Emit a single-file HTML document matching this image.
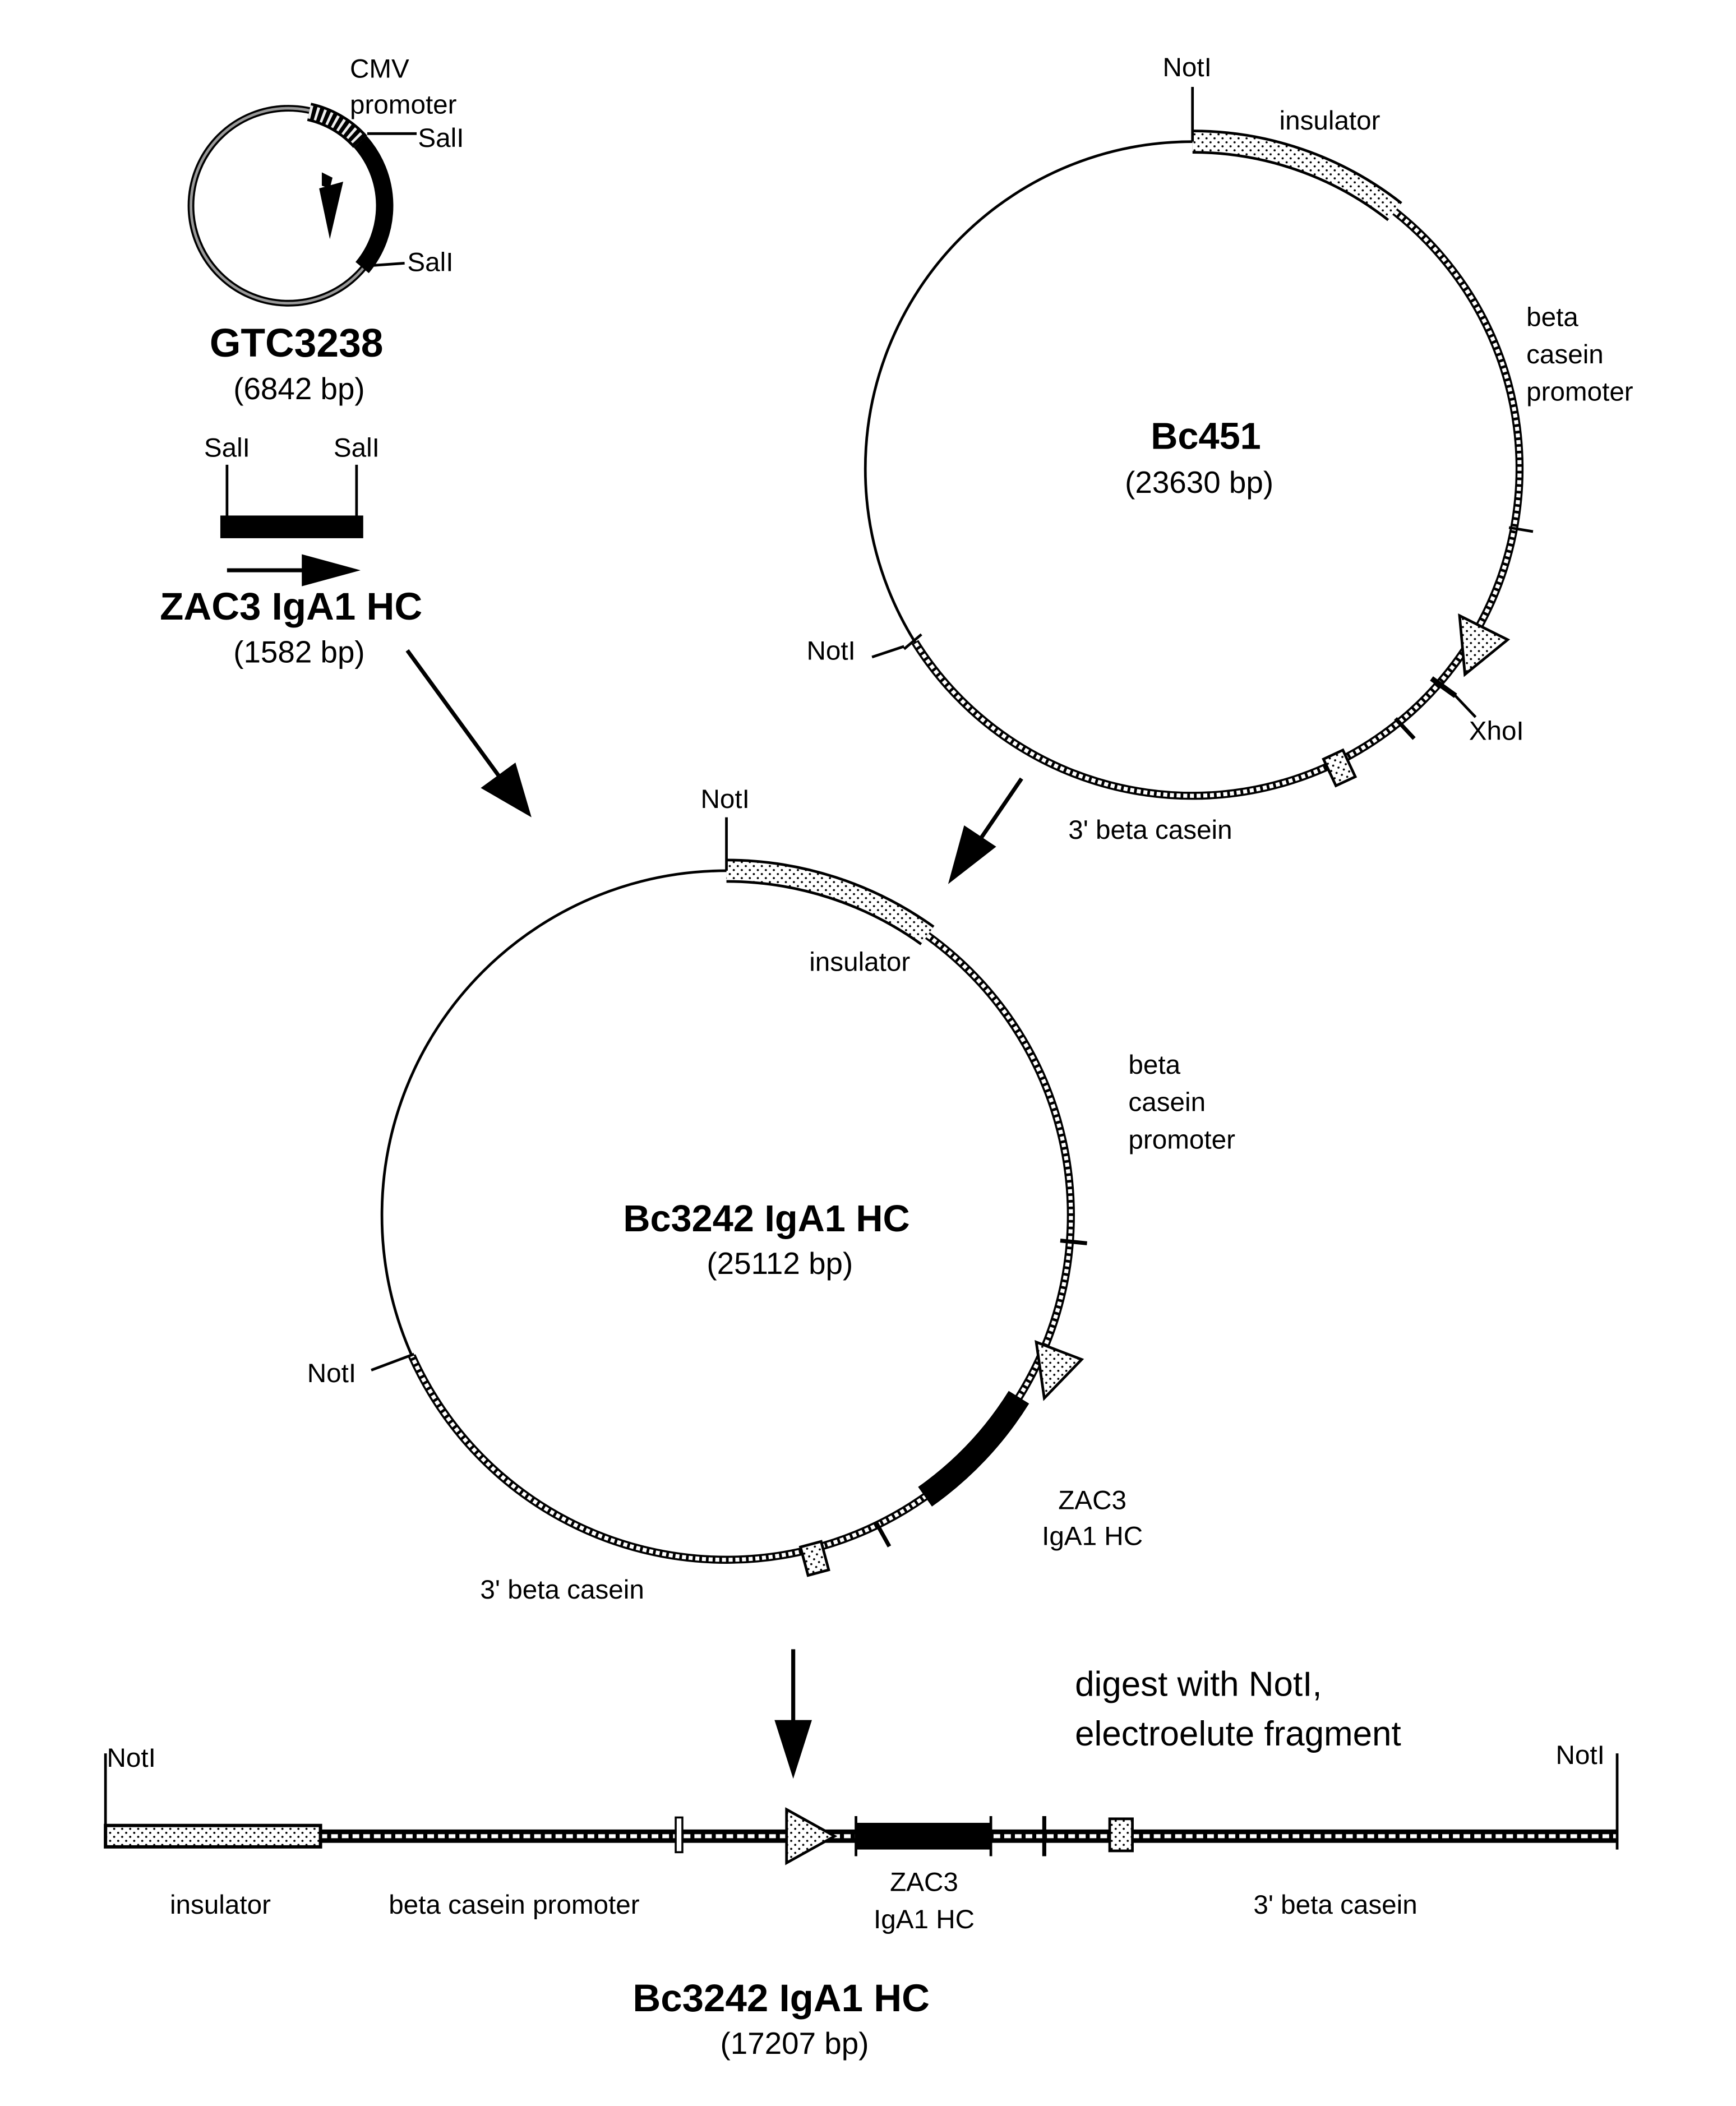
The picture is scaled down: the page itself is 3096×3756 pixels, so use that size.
<!DOCTYPE html>
<html><head><meta charset="utf-8"><style>html,body{margin:0;padding:0;background:#fff}svg{display:block}</style></head>
<body>
<svg width="3096" height="3756" viewBox="0 0 1300 1577" xmlns="http://www.w3.org/2000/svg" font-family="'Liberation Sans', sans-serif">
<defs>
<pattern id="dots" width="6" height="6" patternUnits="userSpaceOnUse"><rect width="6" height="6" fill="#fff"/><circle cx="1.5" cy="1.5" r="0.8" fill="#000"/><circle cx="4.5" cy="4.5" r="0.8" fill="#000"/></pattern>
</defs>
<rect width="1300" height="1577" fill="#fff"/>

<!-- GTC3238 -->
<g transform="translate(1,1)">
<circle cx="215" cy="153" r="73" fill="none" stroke="#000" stroke-width="5"/>
<circle cx="215" cy="153" r="73" fill="none" stroke="#999" stroke-width="2"/>
<path d="M230.5 82.7 A72 72 0 0 1 268.7 105" fill="none" stroke="#000" stroke-width="14"/>
<path d="M230.5 82.7 A72 72 0 0 1 268.7 105" fill="none" stroke="#eee" stroke-width="10" stroke-dasharray="2 3"/>
<path d="M268.7 105 A72 72 0 0 1 270.2 199.3" fill="none" stroke="#000" stroke-width="13"/>
<polygon points="238,140 256,135 246,178" fill="#000"/>
<polygon points="240,128 248,132 246,140 240,138" fill="#000"/>
</g>
<line x1="275" y1="100" x2="312" y2="100" stroke="#000" stroke-width="2"/>
<line x1="275" y1="199" x2="303" y2="197" stroke="#000" stroke-width="2"/>
<g font-size="20">
<text x="262" y="58">CMV</text>
<text x="262" y="85">promoter</text>
<text x="313" y="110">SalI</text>
<text x="305" y="203">SalI</text>
</g>
<text x="222" y="267" font-size="30" font-weight="bold" text-anchor="middle">GTC3238</text>
<text x="224" y="299" font-size="23" text-anchor="middle">(6842 bp)</text>

<g font-size="20" text-anchor="middle"><text x="170" y="342">SalI</text><text x="267" y="342">SalI</text></g>
<line x1="170" y1="348" x2="170" y2="388" stroke="#000" stroke-width="2"/>
<line x1="267" y1="348" x2="267" y2="388" stroke="#000" stroke-width="2"/>
<rect x="165" y="386" width="107" height="17" fill="#000"/>
<line x1="170" y1="427" x2="232" y2="427" stroke="#000" stroke-width="3"/>
<polygon points="226,415 270,427 226,439" fill="#000"/>
<text x="218" y="464" font-size="29" font-weight="bold" text-anchor="middle">ZAC3  IgA1  HC</text>
<text x="224" y="496" font-size="23" text-anchor="middle">(1582 bp)</text>

<line x1="305" y1="487" x2="375" y2="583" stroke="#000" stroke-width="3"/>
<polygon points="360,590 386,571 398,612" fill="#000"/>

<!-- Bc451 -->
<g transform="translate(5,3)">
<circle cx="888" cy="348" r="245" fill="none" stroke="#000" stroke-width="2"/>
<path d="M1039.5 155.4 A245 245 0 1 1 680.2 477.8" fill="none" stroke="#000" stroke-width="6"/>
<path d="M1039.5 155.4 A245 245 0 1 1 680.2 477.8" fill="none" stroke="#fff" stroke-width="3" stroke-dasharray="3 2"/>
<path d="M888 103 A245 245 0 0 1 1039.5 155.4" fill="none" stroke="#000" stroke-width="18"/>
<path d="M888 103 A245 245 0 0 1 1039.5 155.4" fill="none" stroke="url(#dots)" stroke-width="14"/>
<line x1="888" y1="62" x2="888" y2="103" stroke="#000" stroke-width="2"/>
<line x1="1125" y1="392" x2="1143" y2="395" stroke="#000" stroke-width="2"/>
<polygon points="1088,458 1124,476 1092,502" fill="url(#dots)" stroke="#000" stroke-width="2"/>
<line x1="1067" y1="505" x2="1085" y2="518" stroke="#000" stroke-width="4"/>
<line x1="1082" y1="515" x2="1100" y2="534" stroke="#000" stroke-width="2"/>
<line x1="1040" y1="535" x2="1054" y2="550" stroke="#000" stroke-width="3"/>
<rect x="990" y="561" width="16" height="22" fill="url(#dots)" stroke="#000" stroke-width="2" transform="rotate(-25 998 572)"/>
<line x1="672" y1="483" x2="685" y2="472" stroke="#000" stroke-width="2"/>
<line x1="648" y1="489" x2="672" y2="481" stroke="#000" stroke-width="2"/>
</g>
<g font-size="20">
<text x="889" y="57" text-anchor="middle">NotI</text>
<text x="958" y="97">insulator</text>
<text x="1143" y="244">beta</text>
<text x="1143" y="272">casein</text>
<text x="1143" y="300">promoter</text>
<text x="1100" y="554">XhoI</text>
<text x="604" y="494">NotI</text>
<text x="800" y="628">3' beta casein</text>
</g>
<text x="903" y="336" font-size="28" font-weight="bold" text-anchor="middle">Bc451</text>
<text x="898" y="369" font-size="23" text-anchor="middle">(23630 bp)</text>

<line x1="765" y1="583" x2="735" y2="627" stroke="#000" stroke-width="3"/>
<polygon points="722,618 746,634 710,662" fill="#000"/>

<!-- Bc3242 -->
<g transform="translate(2,2)">
<circle cx="542" cy="908" r="258" fill="none" stroke="#000" stroke-width="2"/>
<path d="M692.5 698.5 A258 258 0 1 1 306.4 1013.3" fill="none" stroke="#000" stroke-width="6"/>
<path d="M692.5 698.5 A258 258 0 1 1 306.4 1013.3" fill="none" stroke="#fff" stroke-width="3" stroke-dasharray="3 2"/>
<path d="M542 650 A258 258 0 0 1 692.5 698.5" fill="none" stroke="#000" stroke-width="18"/>
<path d="M542 650 A258 258 0 0 1 692.5 698.5" fill="none" stroke="url(#dots)" stroke-width="14"/>
<path d="M761 1044.3 A258 258 0 0 1 690.7 1118.8" fill="none" stroke="#000" stroke-width="18"/>
<line x1="542" y1="610" x2="542" y2="650" stroke="#000" stroke-width="2"/>
<line x1="792" y1="927" x2="812" y2="929" stroke="#000" stroke-width="3"/>
<polygon points="774,1003 808,1016 780,1045" fill="url(#dots)" stroke="#000" stroke-width="2"/>
<line x1="654" y1="1138" x2="664" y2="1156" stroke="#000" stroke-width="3"/>
<rect x="600" y="1154" width="16" height="22" fill="url(#dots)" stroke="#000" stroke-width="2" transform="rotate(-15 608 1165)"/>
<line x1="276" y1="1024" x2="308" y2="1012" stroke="#000" stroke-width="2"/>
</g>
<g font-size="20">
<text x="543" y="605" text-anchor="middle">NotI</text>
<text x="606" y="727">insulator</text>
<text x="845" y="804">beta</text>
<text x="845" y="832">casein</text>
<text x="845" y="860">promoter</text>
<text x="818" y="1130" text-anchor="middle">ZAC3</text>
<text x="818" y="1157" text-anchor="middle">IgA1 HC</text>
<text x="421" y="1197" text-anchor="middle">3' beta casein</text>
<text x="230" y="1035">NotI</text>
</g>
<text x="574" y="922" font-size="28" font-weight="bold" text-anchor="middle">Bc3242  IgA1  HC</text>
<text x="584" y="954" font-size="23" text-anchor="middle">(25112 bp)</text>

<line x1="594" y1="1235" x2="594" y2="1292" stroke="#000" stroke-width="3"/>
<polygon points="580,1288 608,1288 594,1332" fill="#000"/>
<text x="805" y="1270" font-size="26">digest with NotI,</text>
<text x="805" y="1307" font-size="26">electroelute  fragment</text>

<!-- linear -->
<rect x="240" y="1370" width="971" height="10" fill="#000"/>
<line x1="240" y1="1375" x2="1211" y2="1375" stroke="#fff" stroke-width="3" stroke-dasharray="5 3"/>
<rect x="79" y="1367" width="161" height="16" fill="url(#dots)" stroke="#000" stroke-width="2.5"/>
<line x1="79" y1="1313" x2="79" y2="1382" stroke="#000" stroke-width="2"/>
<line x1="1211" y1="1313" x2="1211" y2="1385" stroke="#000" stroke-width="2"/>
<rect x="506" y="1361" width="5" height="26" fill="#fff" stroke="#000" stroke-width="1.5"/>
<polygon points="589,1355 625,1375 589,1395" fill="url(#dots)" stroke="#000" stroke-width="2"/>
<rect x="641" y="1365" width="101" height="20" fill="#000"/>
<line x1="641" y1="1360" x2="641" y2="1390" stroke="#000" stroke-width="2"/>
<line x1="742" y1="1360" x2="742" y2="1390" stroke="#000" stroke-width="2"/>
<line x1="782" y1="1360" x2="782" y2="1390" stroke="#000" stroke-width="3"/>
<rect x="831" y="1362" width="17" height="24" fill="url(#dots)" stroke="#000" stroke-width="2"/>
<g font-size="20">
<text x="80" y="1323">NotI</text>
<text x="1165" y="1321">NotI</text>
<text x="165" y="1433" text-anchor="middle">insulator</text>
<text x="385" y="1433" text-anchor="middle">beta casein promoter</text>
<text x="692" y="1416" text-anchor="middle">ZAC3</text>
<text x="692" y="1444" text-anchor="middle">IgA1 HC</text>
<text x="1000" y="1433" text-anchor="middle">3' beta casein</text>
</g>
<text x="585" y="1506" font-size="29" font-weight="bold" text-anchor="middle">Bc3242  IgA1  HC</text>
<text x="595" y="1538" font-size="23" text-anchor="middle">(17207 bp)</text>
</svg>
</body></html>
